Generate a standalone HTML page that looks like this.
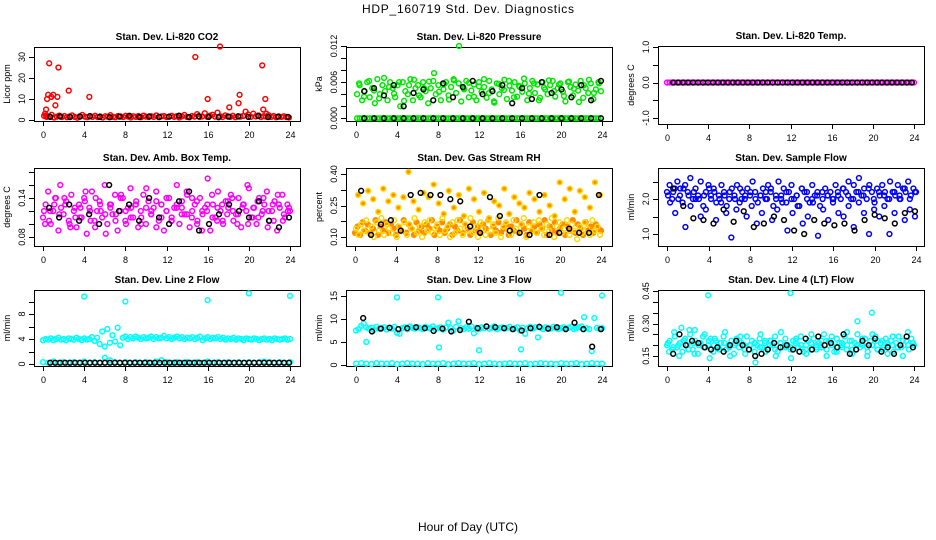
<!DOCTYPE html>
<html><head><meta charset="utf-8"><style>
html,body{margin:0;padding:0;background:#fff;}
svg{display:block;font-family:"Liberation Sans",sans-serif;}
</style></head><body>
<svg id="chart" width="936" height="540" viewBox="0 0 936 540">
<text x="468" y="13" font-size="12" text-anchor="middle" textLength="212">HDP_160719  Std. Dev. Diagnostics</text>
<text x="468" y="531" font-size="12" text-anchor="middle">Hour of Day (UTC)</text>
</svg>
<script>
// ---- data arrays ----
const xTicks = [0,4,8,12,16,20,24];
const co2Main = [2,1.5,1.8,2.5,1.2,1.6,2.1,1.4,1.9,1.3,1.7,2.2,1.5,1.1,1.8,2.4,1.6,1.3,1.9,1.5,2.0,1.4,1.7,1.2,1.8,1.6,2.3,1.5,1.3,1.9,1.7,1.4,2.0,1.6,1.2,1.8,1.5,1.9,1.3,2.1,1.6,1.4,1.8,1.5,2.2,1.3,1.7,1.9,1.4,1.6,2.0,1.5,1.8,1.2,1.7,2.4,1.5,1.3,1.9,1.6,2.8,1.4,1.7,3.2,1.5,2.1,2.5,1.6,3.5,1.8,1.4,2.2,1.7,1.5,2.0,1.3,1.8,1.6,1.9,4.0,2.6,1.5,3.0,1.7,2.2,1.4,1.8,1.6,2.3,1.5,1.9,1.3,1.7,1.5,1.8,1.4,1.2];
const co2OutT = [0.3,0.4,0.5,0.6,0.8,1.0,1.2,1.4,1.5,2.5,4.5,14.8,16.0,17.2,19.0,19.1,18.1,21.3,21.6,21.4,21.7,0.2,0.3];
const co2OutV = [5,10,12,27,11,12,7,11,25,14,11,30,10,35,8,12,6,26,10,5,3,3,2];
const co2Black = [1.5,1.7,1.4,1.6,1.8,1.5,1.3,1.6,2.0,1.4,1.7,1.5,1.6,2.1,1.4,1.8,1.5,1.3,1.6,1.7,1.5,1.9,1.4,1.6,1.5];
const presA = [0.004,0.0055,0.003,0.0045,0.006,0.0035,0.005,0.0025,0.0065,0.004,0.0055,0.0045,0.003,0.006,0.005,0.0035,0.0055,0.002,0.006,0.0045,0.004,0.0065,0.003,0.005,0.0055,0.0035,0.006,0.0045,0.0025,0.005,0.0062,0.004,0.0055,0.003,0.0048,0.006,0.0038,0.0052,0.0065,0.0042,0.0058,0.0028,0.005,0.0062,0.0035,0.0046,0.0056,0.003,0.006,0.0044,0.0052,0.0034,0.0062,0.0048,0.0026,0.0058,0.004,0.005,0.0064,0.0032,0.0054,0.0046,0.006,0.0036,0.0052,0.0044,0.0058,0.003,0.005,0.0062,0.0042,0.0056,0.0034,0.006,0.0048,0.004,0.0055,0.0062,0.0036,0.005,0.0058,0.0044,0.0028,0.006,0.0052,0.0038,0.0056,0.0046,0.0062,0.0034,0.005,0.0042,0.0058,0.0032,0.0048,0.006,0.0045];
const presB = [0.0058,0.0036,0.0062,0.0046,0.0033,0.0067,0.0052,0.0041,0.006,0.0029,0.0055,0.0064,0.0038,0.005,0.0061,0.0075,0.0044,0.0057,0.0031,0.0063,0.012,0.0048,0.0059,0.0036,0.0053,0.0065,0.0042,0.0028,0.0057,0.0047,0.0062,0.0035,0.0054,0.0066,0.0041,0.0058,0.003,0.0051,0.0063,0.0045,0.0056,0.0037,0.0061,0.0049,0.0027,0.0055,0.0064,0.0042,0.0058];
const presZero = [0,0,0,0,0,0,0,0,0,0,0,0,0,0,0,0,0,0,0,0,0,0,0,0,0,0,0,0,0,0,0,0,0,0,0,0,0,0,0,0,0,0,0,0,0,0,0,0,0,0,0,0,0,0,0,0,0,0,0,0,0,0,0,0,0,0,0,0,0,0,0,0,0,0,0,0,0,0,0,0,0,0,0,0,0,0,0,0,0,0,0,0,0,0,0,0,0];
const presBlack = [0.0045,0.005,0.0038,0.0055,0.002,0.0042,0.0048,0.003,0.0058,0.0035,0.0052,0.0062,0.004,0.0045,0.0055,0.0025,0.005,0.0032,0.006,0.0042,0.0048,0.0035,0.0055,0.003,0.0062];
const presBlackZero = [0,0,0,0,0,0,0,0,0,0,0,0,0,0,0,0,0,0,0,0,0,0,0,0,0];
const tempMain = [0,0,0,0,0,0,0,0,0,0,0,0,0,0,0,0,0,0,0,0,0,0,0,0,0,0,0,0,0,0,0,0,0,0,0,0,0,0,0,0,0,0,0,0,0,0,0,0,0,0,0,0,0,0,0,0,0,0,0,0,0,0,0,0,0,0,0,0,0,0,0,0,0,0,0,0,0,0,0,0,0,0,0,0,0,0,0,0,0,0,0,0,0,0,0,0,0];
const tempBlack = [0,0,0,0,0,0,0,0,0,0,0,0,0,0,0,0,0,0,0,0,0,0,0,0,0,0,0,0,0,0,0,0,0,0,0,0,0,0,0,0,0,0,0,0,0,0,0,0,0];
const ambA = [0.11,0.13,0.15,0.10,0.12,0.14,0.09,0.125,0.115,0.135,0.105,0.145,0.12,0.095,0.13,0.11,0.14,0.085,0.125,0.15,0.105,0.12,0.135,0.11,0.16,0.1,0.13,0.115,0.145,0.09,0.12,0.14,0.105,0.125,0.155,0.11,0.13,0.095,0.12,0.145,0.1,0.135,0.115,0.125,0.15,0.105,0.13,0.09,0.12,0.14,0.11,0.125,0.16,0.1,0.135,0.115,0.145,0.095,0.12,0.13,0.105,0.14,0.115,0.125,0.17,0.09,0.13,0.11,0.15,0.12,0.1,0.135,0.125,0.145,0.105,0.115,0.14,0.095,0.13,0.12,0.155,0.11,0.125,0.1,0.14,0.115,0.13,0.15,0.105,0.12,0.135,0.09,0.125,0.145,0.11,0.13,0.12];
const ambB = [0.1,0.12,0.14,0.16,0.13,0.095,0.11,0.125,0.15,0.105,0.14,0.12,0.085,0.13,0.115,0.145,0.1,0.125,0.135,0.11,0.155,0.12,0.095,0.13,0.14,0.105,0.125,0.115,0.15,0.11,0.135,0.09,0.12,0.145,0.105,0.13,0.115,0.14,0.1,0.125,0.16,0.11,0.135,0.12,0.095,0.13,0.145,0.105,0.12];
const ambC = [0.12,0.105,0.13,0.115,0.14,0.1,0.125,0.11,0.135,0.12,0.095,0.13,0.115,0.125,0.105,0.14,0.12,0.11,0.13,0.1,0.125,0.115,0.135,0.11,0.12,0.105,0.13,0.125,0.115,0.14,0.1,0.12,0.13,0.11,0.125,0.105,0.135,0.12,0.115,0.13,0.1,0.125,0.11,0.14,0.12,0.105,0.13,0.115,0.125];
const ambBlack = [0.125,0.11,0.13,0.105,0.115,0.1,0.16,0.12,0.13,0.105,0.14,0.11,0.1,0.135,0.15,0.09,0.1,0.115,0.13,0.12,0.11,0.135,0.105,0.095,0.11];
const rhOrange = [0.12,0.15,0.11,0.17,0.13,0.16,0.12,0.14,0.18,0.11,0.15,0.13,0.17,0.12,0.16,0.14,0.11,0.15,0.13,0.18,0.12,0.16,0.14,0.11,0.17,0.13,0.15,0.12,0.16,0.14,0.18,0.11,0.15,0.13,0.17,0.12,0.14,0.16,0.11,0.15,0.13,0.18,0.12,0.16,0.14,0.11,0.17,0.13,0.15,0.12,0.16,0.14,0.18,0.11,0.15,0.13,0.17,0.12,0.14,0.16,0.11,0.15,0.13,0.18,0.12,0.16,0.14,0.11,0.17,0.13,0.15,0.12,0.16,0.14,0.18,0.11,0.15,0.13,0.17,0.12,0.14,0.16,0.11,0.15,0.13,0.18,0.12,0.16,0.14,0.11,0.17,0.13,0.15,0.12,0.16,0.14,0.13];
const rhYellow = [0.14,0.11,0.16,0.13,0.18,0.12,0.15,0.1,0.17,0.13,0.19,0.11,0.16,0.14,0.12,0.18,0.1,0.15,0.13,0.17,0.11,0.16,0.14,0.19,0.12,0.15,0.1,0.17,0.13,0.18,0.12,0.14,0.16,0.11,0.19,0.13,0.15,0.1,0.17,0.12,0.18,0.14,0.11,0.16,0.13,0.19,0.12,0.15,0.1,0.17,0.14,0.11,0.18,0.13,0.16,0.12,0.19,0.1,0.15,0.17,0.13,0.11,0.18,0.14,0.12,0.16,0.19,0.1,0.15,0.13,0.17,0.12,0.18,0.14,0.11,0.16,0.13,0.19,0.1,0.15,0.17,0.12,0.14,0.18,0.11,0.16,0.13,0.09,0.15,0.12,0.17,0.14,0.11,0.18,0.13,0.15,0.11];
const rhHigh = [0.3,0.26,0.32,0.28,0.22,0.33,0.27,0.3,0.24,0.29,0.41,0.27,0.23,0.31,0.29,0.35,0.26,0.21,0.32,0.24,0.3,0.2,0.33,0.28,0.22,0.31,0.19,0.27,0.25,0.33,0.21,0.29,0.26,0.24,0.31,0.28,0.22,0.3,0.25,0.2,0.36,0.28,0.33,0.22,0.32,0.29,0.24,0.36,0.3];
const rhBlack = [0.32,0.11,0.16,0.18,0.13,0.3,0.31,0.3,0.3,0.28,0.27,0.15,0.12,0.29,0.2,0.13,0.12,0.11,0.3,0.11,0.12,0.14,0.12,0.12,0.3];
const flowMain = [2.2,2.4,2.0,2.3,2.5,2.1,1.9,2.4,2.2,2.6,2.0,2.3,2.1,2.5,1.8,2.2,2.4,2.0,2.3,1.9,2.1,2.4,2.2,1.8,2.0,2.3,2.1,2.4,1.9,2.2,2.0,2.3,2.1,2.5,2.2,1.9,2.1,2.3,2.0,2.4,2.2,1.8,2.1,2.5,2.0,2.3,1.9,2.2,2.4,2.0,2.1,1.8,2.3,2.2,2.0,1.9,2.4,2.1,2.2,1.8,2.0,2.3,2.1,2.2,1.9,2.4,2.1,2.0,2.3,2.2,2.5,2.0,2.4,2.2,2.6,2.1,2.3,2.0,2.4,2.2,1.9,2.3,2.1,2.4,2.2,2.0,2.5,2.2,2.1,2.4,2.0,2.3,2.2,2.5,2.1,2.3,2.2];
const flowMid = [2.1,2.2,2.0,2.3,2.1,2.2,2.0,2.1,2.3,2.2,2.0,2.1,2.2,2.0,2.3,2.1,2.2,2.0,2.1,2.2,2.3,2.0,2.1,2.2,2.0,2.1,2.3,2.2,2.0,2.1,2.2,2.1,2.0,2.2,2.3,2.1,2.0,2.2,2.1,2.3,2.0,2.2,2.1,2.0,2.2,2.1,2.3,2.0,2.2];
const flowLow = [1.9,1.6,2.3,1.2,1.8,2.0,1.5,1.7,2.1,1.4,1.9,1.6,0.9,1.7,2.0,1.5,1.8,1.3,1.6,2.0,1.4,1.7,1.9,1.1,1.6,1.8,1.3,1.5,1.9,0.95,1.7,1.4,2.0,1.6,1.5,1.8,1.2,1.9,1.6,1.0,1.7,1.5,1.8,1.0,1.6,2.0,1.4,1.7,1.5];
const flowBlack = [2.3,1.8,1.45,1.4,1.3,1.7,1.35,1.65,1.2,1.3,1.5,1.4,1.1,1.0,1.4,1.3,1.25,1.3,1.1,1.4,1.55,1.45,1.3,1.6,1.65];
const l2Main = [3.8,4.0,3.9,4.1,3.8,4.0,4.2,3.9,4.0,3.8,4.1,4.0,3.9,4.2,4.0,3.8,4.1,3.9,4.0,4.3,3.7,4.2,3.2,5.2,2.8,5.6,3.4,4.6,3.6,5.8,3.0,4.2,4.4,4.0,4.3,4.1,4.4,4.2,4.0,4.3,4.1,4.2,4.4,4.0,4.3,4.1,4.2,4.5,4.1,4.3,4.0,4.2,4.4,4.1,4.3,4.0,4.2,4.1,4.3,4.0,4.2,4.4,3.8,4.1,4.3,4.0,4.2,4.1,4.3,4.0,4.2,3.9,4.1,4.0,4.2,3.9,4.1,4.0,3.8,4.1,4.0,3.9,4.1,4.0,3.8,4.0,4.1,3.9,4.0,3.8,4.1,4.0,3.9,4.0,4.1,3.9,4.0];
const l2Low = [0.3,0.2,0.4,0.2,0.3,0.2,0.3,0.2,0.4,0.2,0.3,0.2,1.0,0.6,0.3,0.2,0.3,0.2,0.3,0.2,0.3,0.2,0.4,0.6,0.3,0.2,0.3,0.2,0.3,0.2,0.3,0.2,0.4,0.2,0.3,0.2,0.3,0.2,0.3,0.2,0.3,0.2,0.3,0.4,0.3,0.2,0.3,0.2,0.3];
const l2OutT = [4.0,8.0,16.0,20.0,24.0];
const l2OutV = [10.8,10.0,10.2,11.3,10.9];
const l2Black = [0.2,0.2,0.2,0.2,0.2,0.2,0.2,0.2,0.2,0.2,0.2,0.2,0.2,0.2,0.2,0.2,0.2,0.2,0.2,0.2,0.2,0.2,0.2,0.2,0.2,0.2,0.2,0.2,0.2,0.2,0.2,0.2,0.2,0.2,0.2,0.2,0.2,0.2,0.2,0.2,0.2,0.2,0.2,0.2,0.2,0.2,0.2,0.2,0.2];
const l3Main = [7.5,7.8,8.5,9.0,8.2,7.9,8.1,7.6,8.3,7.9,8.0,8.2,7.7,8.1,7.9,8.3,7.0,6.8,8.0,8.2,7.8,8.4,8.1,7.9,8.2,8.0,7.8,8.3,8.1,7.9,8.4,7.8,8.0,8.2,7.7,8.1,9.2,8.0,7.5,8.3,9.5,8.0,7.8,8.2,7.9,8.4,6.9,8.1,7.8,8.2,8.0,8.3,7.9,8.1,8.4,7.8,8.0,8.2,7.9,8.1,8.3,7.8,8.0,8.2,7.5,8.1,6.8,8.0,8.3,7.9,8.2,6.0,8.1,7.8,8.2,8.0,7.9,8.3,8.1,7.8,8.0,8.2,7.9,8.1,8.3,7.8,8.0,8.2,8.4,10.4,8.0,7.8,3.0,10.2,8.1,7.9,8.0];
const l3Low = [0.3,0.4,0.3,0.2,0.4,0.3,0.3,0.4,0.2,0.3,0.4,0.3,0.3,0.2,0.4,0.3,0.3,0.4,0.2,0.3,0.4,0.3,0.3,0.4,0.2,0.3,0.4,0.3,0.2,0.3,0.4,0.3,0.3,0.4,0.2,0.3,0.4,0.3,0.3,0.2,0.4,0.3,0.3,0.4,0.2,0.3,0.4,0.3,0.3];
const l3OutT = [1.0,4.0,8.0,8.1,12.0,16.0,16.1,20.0,24.0];
const l3OutV = [5.0,14.7,14.7,3.8,3.2,15.5,3.4,15.7,15.1];
const l3Black = [10.2,7.3,7.9,8.1,7.8,8.0,8.2,8.0,7.4,7.9,7.3,7.6,9.4,8.0,8.4,8.2,8.0,7.8,7.5,8.0,8.3,7.9,8.2,7.8,9.2,7.8,4.0,7.8];
const l4Main = [0.2,0.22,0.18,0.24,0.19,0.21,0.17,0.23,0.2,0.25,0.18,0.22,0.16,0.21,0.24,0.19,0.2,0.23,0.17,0.22,0.19,0.21,0.24,0.18,0.2,0.22,0.16,0.23,0.19,0.21,0.2,0.24,0.18,0.22,0.17,0.2,0.23,0.19,0.21,0.18,0.22,0.2,0.24,0.17,0.21,0.19,0.23,0.2,0.18,0.22,0.21,0.19,0.24,0.17,0.2,0.22,0.18,0.23,0.2,0.21,0.19,0.25,0.18,0.22,0.2,0.17,0.23,0.21,0.19,0.24,0.2,0.22,0.18,0.21,0.25,0.19,0.2,0.23,0.17,0.22,0.2,0.24,0.18,0.21,0.19,0.23,0.2,0.22,0.17,0.21,0.24,0.19,0.2,0.22,0.18,0.23,0.2];
const l4Mid = [0.21,0.19,0.2,0.22,0.18,0.21,0.2,0.19,0.22,0.2,0.18,0.21,0.19,0.2,0.22,0.18,0.2,0.21,0.19,0.22,0.2,0.18,0.21,0.2,0.19,0.22,0.2,0.18,0.21,0.19,0.2,0.22,0.21,0.19,0.2,0.18,0.22,0.2,0.21,0.19,0.2,0.22,0.18,0.21,0.2,0.19,0.22,0.2,0.21];
const l4Low = [0.17,0.26,0.15,0.22,0.27,0.16,0.2,0.25,0.14,0.23,0.18,0.26,0.15,0.21,0.24,0.16,0.2,0.12,0.25,0.17,0.22,0.15,0.26,0.19,0.14,0.23,0.2,0.16,0.25,0.18,0.22,0.15,0.24,0.17,0.21,0.26,0.16,0.2,0.23,0.15,0.25,0.18,0.22,0.16,0.24,0.19,0.15,0.26,0.21];
const l4OutT = [4.0,12.0,18.5,19.9,1.4,2.7];
const l4OutV = [0.43,0.44,0.31,0.35,0.28,0.27];
const l4Black = [0.16,0.25,0.2,0.22,0.21,0.19,0.18,0.19,0.17,0.2,0.22,0.2,0.18,0.15,0.16,0.18,0.21,0.19,0.2,0.18,0.17,0.23,0.18,0.24,0.2,0.21,0.19,0.25,0.16,0.18,0.22,0.2,0.23,0.17,0.19,0.16,0.2,0.24,0.19];

// ---- panel layout (pixels) ----
const panels = [
 {name:'co2',title:'Stan. Dev. Li-820 CO2',ylab:'Licor ppm',box:[34,47,300,121],x0:43,x24:290,yref:[0,120,30,57],yt:[0,10,20,30],yl:[0,10,20,30],dec:0},
 {name:'pressure',title:'Stan. Dev. Li-820 Pressure',ylab:'kPa',box:[346,47,612,121],x0:356,x24:602,yref:[0,118.3,0.012,46],yt:[0,0.002,0.004,0.006,0.008,0.010,0.012],yl:[0,0.006,0.012],dec:3},
 {name:'li820-temp',title:'Stan. Dev. Li-820 Temp.',ylab:'degrees C',box:[658,46,924,124],x0:667,x24:914,yref:[-1,118,1,47],yt:[-1,-0.5,0,0.5,1],yl:[-1,0,1],dec:1},
 {name:'amb-temp',title:'Stan. Dev. Amb. Box Temp.',ylab:'degrees C',box:[34,168,300,246],x0:43,x24:290,yref:[0.08,237,0.14,198],yt:[0.08,0.10,0.12,0.14,0.16,0.18],yl:[0.08,0.14],dec:2},
 {name:'rh',title:'Stan. Dev. Gas Stream RH',ylab:'percent',box:[346,168,612,246],x0:355,x24:601,yref:[0.10,237,0.40,174],yt:[0.10,0.175,0.25,0.325,0.40],yl:[0.10,0.25,0.40],dec:2},
 {name:'sample-flow',title:'Stan. Dev. Sample Flow',ylab:'ml/min',box:[658,168,924,246],x0:667,x24:916,yref:[1,234,2,199],yt:[1,1.5,2,2.5],yl:[1,2],dec:1},
 {name:'line2',title:'Stan. Dev. Line 2 Flow',ylab:'ml/min',box:[34,290,300,366],x0:43,x24:290,yref:[0,364,8,314],yt:[0,2,4,6,8,10],yl:[0,4,8],dec:0},
 {name:'line3',title:'Stan. Dev. Line 3 Flow',ylab:'ml/min',box:[346,290,612,366],x0:356,x24:602,yref:[0,365,15,296],yt:[0,5,10,15],yl:[0,5,10,15],dec:0},
 {name:'line4',title:'Stan. Dev. Line 4 (LT) Flow',ylab:'ml/min',box:[658,290,924,366],x0:667,x24:914,yref:[0.15,356,0.45,291],yt:[0.15,0.2,0.25,0.3,0.35,0.4,0.45],yl:[0.15,0.30,0.45],dec:2}
];
const NS='http://www.w3.org/2000/svg';
const svg=document.getElementById('chart');
function mk(tag,attrs,parent){const e=document.createElementNS(NS,tag);for(const k in attrs)e.setAttribute(k,attrs[k]);(parent||svg).appendChild(e);return e;}
function xs(p,t){return p.x0+(t/24)*(p.x24-p.x0);}
function ys(p,v){const r=p.yref;return r[1]+(v-r[0])*(r[3]-r[1])/(r[2]-r[0]);}
const groups=[];
panels.forEach(p=>{
 const g=mk('g',{});
 
 
 groups.push(g);
 const b=p.box;
 const fr=mk('rect',{x:b[0]+0.5,y:b[1]+0.5,width:b[2]-b[0],height:b[3]-b[1],fill:'none',stroke:'#000','stroke-width':1},g);
 
 
 const tt=mk('text',{x:(b[0]+b[2])/2,y:b[1]-7,'font-size':10,'font-weight':'bold','text-anchor':'middle'},g);
 tt.textContent=p.title;
 
 
 const yl=mk('text',{transform:`translate(${b[0]-24},${(b[1]+b[3])/2}) rotate(-90)`,'font-size':9,'text-anchor':'middle'},g);
 yl.textContent=p.ylab;
 
 
 const xa=mk('line',{x1:xs(p,0),x2:xs(p,24),y1:b[3]+0.5,y2:b[3]+0.5,stroke:'#000'},g);
 
 
 xTicks.forEach(t=>{
  const x=Math.round(xs(p,t))+0.5;
  mk('line',{x1:x,x2:x,y1:b[3],y2:b[3]+5,stroke:'#000'},g);
  const tl=mk('text',{x:x,y:b[3]+17,'font-size':9,'text-anchor':'middle'},g);
  tl.textContent=t;
  
  
 });
 p.yt.forEach(v=>{
  const y=Math.round(ys(p,v))+0.5;
  mk('line',{x1:b[0]-5,x2:b[0],y1:y,y2:y,stroke:'#000'},g);
 });
 const ya=mk('line',{x1:b[0]+0.5,x2:b[0]+0.5,y1:ys(p,p.yt[0]),y2:ys(p,p.yt[p.yt.length-1]),stroke:'#000'},g);
 
 
 p.yl.forEach(v=>{
  const y=ys(p,v);
  const tl=mk('text',{transform:`translate(${b[0]-9},${y}) rotate(-90)`,'font-size':9,'text-anchor':'middle'},g);
  tl.textContent=v.toFixed(p.dec);
  
  
 });
});
function series(pi,vals,t0,t1,color,name,fill){
 const p=panels[pi];
 const g=mk('g',{},groups[pi]);
 
 
 vals.forEach((v,i)=>{
  const t=vals.length>1?t0+i*(t1-t0)/(vals.length-1):t0;
  mk('circle',{cx:xs(p,t),cy:ys(p,v),r:2.4,fill:fill||'none',stroke:color,'stroke-width':1.5},g);
 });
}
function pts(pi,ts,vals,color,name){
 const p=panels[pi];
 const g=mk('g',{},groups[pi]);
 
 
 vals.forEach((v,i)=>{
  mk('circle',{cx:xs(p,ts[i]),cy:ys(p,v),r:2.4,fill:'none',stroke:color,'stroke-width':1.5},g);
 });
}
const R='#ff0000',G='#00e600',M='#ff00ff',B='#0000ff',C='#00ffff',K='#000000';
series(0,co2Main,0.1,23.9,R,'co2-points');
pts(0,co2OutT,co2OutV,R,'co2-outliers');
series(0,co2Black,0.7,23.8,K,'co2-black-points');
series(1,presZero,0.1,23.9,G,'pressure-zero-points');
series(1,presA,0.1,23.9,G,'pressure-points');
series(1,presB,0.3,23.7,G,'pressure-points-b');
series(1,presBlackZero,0.8,23.9,K,'pressure-black-zero-points');
series(1,presBlack,0.8,23.9,K,'pressure-black-points');
series(2,tempMain,0,24,M,'li820-temp-points');
series(2,tempBlack,0.6,23.8,K,'li820-temp-black-points');
series(3,ambA,0,24,M,'amb-temp-points');
series(3,ambB,0.2,23.8,M,'amb-temp-points-b');
series(3,ambC,0.1,23.9,M,'amb-temp-points-c');
series(3,ambBlack,0.6,23.9,K,'amb-temp-black-points');
series(4,rhOrange,0,24,'#ff8c00','rh-orange-points','#ff8c00');
series(4,rhYellow,0.1,23.9,'#ffd700','rh-yellow-points');
series(4,rhHigh,0.3,23.9,'#ffd700','rh-high-points','#ff8c00');
series(4,rhBlack,0.6,23.8,K,'rh-black-points');
series(5,flowMain,0,24,B,'sample-flow-points');
series(5,flowMid,0.1,23.9,B,'sample-flow-mid-points');
series(5,flowLow,0.3,23.9,B,'sample-flow-low-points');
series(5,flowBlack,0.6,23.9,K,'sample-flow-black-points');
series(6,l2Main,0,24,C,'line2-points');
series(6,l2Low,0,24,C,'line2-low-points');
pts(6,l2OutT,l2OutV,C,'line2-outliers');
series(6,l2Black,0.7,23.9,K,'line2-black-points');
series(7,l3Main,0,24,C,'line3-points');
series(7,l3Low,0,24,C,'line3-low-points');
pts(7,l3OutT,l3OutV,C,'line3-outliers');
series(7,l3Black,0.7,23.9,K,'line3-black-points');
series(8,l4Main,0,24,C,'line4-points');
series(8,l4Mid,0.1,23.9,C,'line4-mid-points');
series(8,l4Low,0.2,23.9,C,'line4-low-points');
pts(8,l4OutT,l4OutV,C,'line4-outliers');
series(8,l4Black,0.6,23.9,K,'line4-black-points');
</script>
</body></html>
